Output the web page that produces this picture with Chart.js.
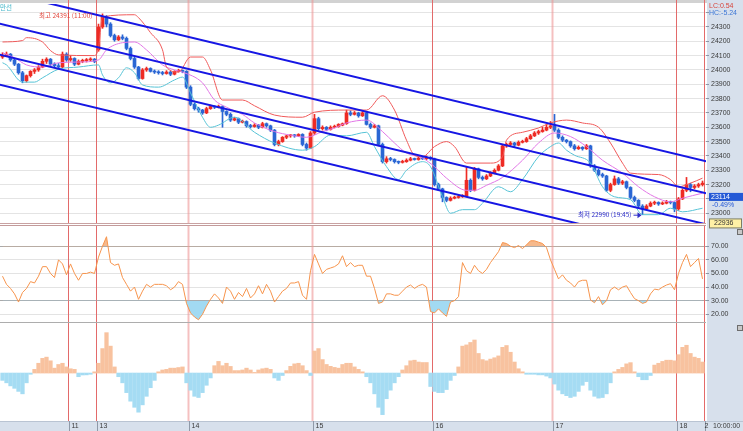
<!DOCTYPE html>
<html>
<head>
<meta charset="utf-8">
<script src="https://cdn.jsdelivr.net/npm/chart.js@4.4.1/dist/chart.umd.min.js"></script>
<style>
  body { margin: 0; width: 743px; height: 431px; overflow: hidden; position: relative; background: #fff; }
  .axisBg { position: absolute; left: 707px; top: 0; width: 36px; height: 431px; background: #d7e0ec; }
  .xBg { position: absolute; left: 0; top: 421px; width: 743px; height: 10px; background: #d7e0ec; border-top: 1px solid #b9c4d3; box-sizing: border-box; }
  .topBar { position: absolute; left: 0; top: 0; width: 707px; height: 3px; background: #d2d2d2; }
  .icon { position: absolute; left: 737px; width: 4px; height: 4px; border: 1px solid #6d6d6d; background: #c8c8c8; }
  canvas { position: absolute; left: 0; }
</style>
</head>
<body>
<div class="axisBg"></div>
<div class="xBg"></div>
<div class="topBar"></div>
<canvas id="priceChart" width="743" height="230" style="top:0"></canvas>
<canvas id="rsiChart" width="743" height="98" style="top:225px"></canvas>
<canvas id="histChart" width="743" height="108" style="top:323px"></canvas>
<div class="icon" style="top:229px"></div>
<div class="icon" style="top:325px"></div>
<script>
// 캔들 데이터 (봉 인덱스 0~175)
const opens = [
  24090,24100,24110,24070,24040,23980,23925,23960,23990,24000,
  24020,24060,24075,24040,24030,24020,24110,24070,24080,24040,
  24060,24065,24070,24075,24140,24300,24370,24320,24240,24210,
  24230,24220,24150,24080,24020,23940,24000,24010,23990,23985,
  23980,23975,23985,23970,23990,23995,23990,23880,23760,23730,
  23720,23700,23730,23745,23740,23745,23710,23690,23650,23660,
  23635,23640,23610,23605,23615,23600,23625,23610,23580,23480,
  23500,23530,23540,23545,23540,23550,23480,23455,23560,23660,
  23590,23600,23585,23600,23605,23615,23625,23700,23690,23700,
  23680,23700,23620,23600,23610,23480,23360,23380,23375,23360,
  23355,23360,23370,23380,23375,23385,23380,23390,23380,23200,
  23170,23110,23090,23105,23110,23115,23120,23230,23160,23310,
  23250,23240,23260,23280,23300,23330,23470,23480,23490,23475,
  23495,23500,23520,23540,23560,23570,23580,23600,23610,23580,
  23530,23510,23500,23470,23450,23460,23450,23470,23330,23300,
  23270,23260,23160,23200,23240,23210,23220,23180,23110,23090,
  23050,23030,23050,23070,23075,23065,23070,23080,23075,23030,
  23100,23160,23200,23180,23190,23200
];
const highs = [
  24120,24125,24115,24080,24045,23990,23965,23995,24010,24030,
  24075,24085,24080,24050,24045,24125,24120,24100,24085,24070,
  24075,24080,24085,24080,24320,24391,24380,24330,24250,24240,
  24245,24230,24160,24090,24025,24010,24020,24015,24000,23995,
  23990,23995,23990,23995,24005,24000,23995,23890,23770,23740,
  23725,23740,23755,23750,23755,23750,23715,23700,23670,23665,
  23650,23645,23620,23625,23620,23635,23630,23615,23585,23510,
  23535,23545,23550,23550,23555,23555,23490,23570,23690,23670,
  23610,23605,23610,23615,23625,23630,23720,23715,23710,23705,
  23710,23705,23630,23620,23615,23490,23395,23390,23380,23365,
  23370,23380,23390,23385,23395,23390,23400,23395,23385,23210,
  23175,23115,23115,23120,23125,23130,23320,23240,23320,23315,
  23260,23270,23290,23310,23340,23480,23490,23500,23495,23505,
  23510,23530,23550,23570,23580,23600,23620,23640,23690,23590,
  23540,23515,23505,23480,23470,23465,23480,23475,23340,23310,
  23280,23265,23210,23260,23250,23230,23225,23185,23120,23095,
  23060,23060,23080,23085,23080,23080,23090,23085,23080,23110,
  23170,23250,23210,23200,23210,23225
];
const lows = [
  24080,24095,24060,24030,23970,23910,23915,23950,23975,23990,
  24015,24045,24030,24015,24015,24015,24060,24060,24030,24035,
  24050,24055,24060,24050,24130,24290,24300,24230,24200,24205,
  24210,24140,24070,24010,23930,23935,23990,23985,23975,23970,
  23965,23970,23960,23965,23985,23980,23870,23750,23720,23705,
  23690,23695,23725,23730,23735,23600,23680,23640,23645,23625,
  23630,23600,23595,23600,23590,23595,23600,23570,23470,23470,
  23495,23520,23530,23530,23535,23470,23440,23450,23550,23580,
  23580,23575,23580,23595,23600,23610,23620,23680,23685,23670,
  23675,23615,23590,23595,23470,23350,23350,23365,23350,23345,
  23350,23355,23365,23370,23370,23375,23375,23370,23190,23160,
  23080,23080,23085,23100,23105,23110,23115,23150,23155,23240,
  23230,23235,23255,23275,23295,23325,23460,23470,23465,23470,
  23490,23495,23515,23535,23550,23565,23575,23590,23570,23520,
  23500,23490,23460,23440,23445,23440,23445,23320,23290,23260,
  23250,23150,23150,23195,23200,23200,23170,23100,23080,23040,
  22990,23025,23045,23060,23055,23060,23065,23065,23010,23020,
  23095,23150,23150,23170,23180,23190
];
const closes = [
  24100,24110,24070,24040,23980,23925,23960,23990,24000,24020,
  24060,24075,24040,24030,24020,24110,24070,24080,24040,24060,
  24065,24070,24075,24060,24300,24370,24320,24240,24210,24230,
  24220,24150,24080,24020,23940,24000,24010,23990,23985,23980,
  23975,23985,23970,23990,23995,23990,23880,23760,23730,23720,
  23700,23730,23745,23740,23745,23710,23690,23650,23660,23635,
  23640,23610,23605,23615,23600,23625,23610,23580,23480,23500,
  23530,23540,23545,23540,23550,23480,23455,23560,23660,23590,
  23600,23585,23600,23605,23620,23625,23700,23690,23700,23680,
  23700,23620,23600,23610,23480,23360,23380,23375,23360,23355,
  23360,23370,23380,23375,23385,23380,23390,23380,23200,23170,
  23110,23090,23105,23110,23115,23120,23230,23160,23310,23250,
  23240,23260,23280,23300,23330,23470,23480,23490,23475,23495,
  23500,23520,23540,23560,23570,23580,23600,23610,23580,23530,
  23510,23500,23470,23450,23460,23450,23470,23330,23300,23270,
  23260,23160,23200,23240,23210,23220,23180,23110,23090,23050,
  23030,23050,23070,23075,23065,23070,23080,23075,23030,23100,
  23160,23200,23180,23190,23200,23210
];

// 볼린저 밴드 (봉 인덱스, 값)
const bbUpperAt = [0,5,6,10,12,14,23,24,25,33,34,37,40,41,44,47,50,52,55,60,63,68,75,78,86,91,95,98,101,103,105,108,111,113,116,122,125,126,130,134,137,141,145,149,152,155,157,164,167,169,172,175];
const bbUpper = [24195,24205,24225,24195,24135,24105,24100,24155,24370,24385,24365,24260,24140,24020,23985,24090,24090,24000,23790,23790,23750,23685,23670,23705,23720,23720,23820,23720,23510,23405,23395,23465,23500,23465,23350,23350,23395,23510,23565,23595,23630,23650,23630,23600,23490,23350,23280,23270,23235,23185,23210,23245];
const bbMidAt = [0,3,6,10,14,19,24,26,30,33,36,40,43,45,50,53,56,60,63,68,72,76,80,83,86,91,95,98,101,105,108,111,116,118,121,125,130,134,138,142,146,150,155,159,163,167,170,175];
const bbMid = [24120,24085,24035,24020,24050,24055,24070,24140,24190,24195,24140,24035,24000,23985,23910,23790,23740,23690,23630,23570,23545,23530,23570,23595,23630,23650,23570,23490,23420,23385,23325,23245,23160,23160,23195,23250,23370,23490,23560,23535,23465,23370,23280,23185,23115,23080,23105,23140];
const bbLowAt = [0,1,5,8,10,14,19,24,25,27,29,31,33,35,39,43,45,47,50,52,54,58,63,68,75,78,82,86,91,93,96,99,101,105,107,110,112,115,118,120,124,127,130,134,137,139,141,143,147,150,153,157,160,164,167,170,175];
const bbLow = [24050,24035,23915,23915,23945,24005,24020,24035,23965,23910,23945,24015,23980,23895,23880,23930,23950,23840,23670,23600,23615,23670,23565,23490,23440,23465,23545,23540,23565,23465,23325,23235,23300,23360,23325,23115,23000,23025,23025,23070,23185,23150,23235,23395,23465,23490,23440,23405,23350,23185,23115,23095,22990,22990,23035,23010,23035];

// 추세 채널 (시작/끝)
const channelX = [-1, 176.5];
const channelTop = [24549, 23359];
const channelUpperMid = [24325, 23135];
const channelLowerMid = [24109, 22919];
const channelBottom = [23899, 22709];

// 보조지표
const rsi = [
  48,42,39,35,29,36,39,44,43,48,
  55,55,50,47,60,57,49,57,50,45,
  50,50,51,50,62,70,77,58,56,57,
  47,42,37,40,31,37,42,40,42,42,
  42,41,38,40,44,42,28,21,18,16,
  20,26,31,35,32,28,40,37,31,36,
  33,39,32,35,41,35,42,37,29,33,
  37,39,43,43,44,34,31,52,64,57,
  50,53,54,55,57,63,55,58,55,56,
  56,48,48,39,28,29,35,35,34,34,
  37,40,41.5,39,41,42,40,22,21,24,
  21,18.5,29,30,33,58,52,50,56,52,
  50,53,58,62,66,72.7,72,70,69,70.5,
  68.3,71,74,74,73,72,69,60,53,46,
  49,45,43,40,44,45,45,30.5,28.5,33,
  27,30,38,40,38,40,41,36,31.5,30,
  28,29,35,38.5,38,40,41.5,42.5,38,50,
  58,64,55,58,61,46
];
const hist = [
  -6,-8,-10.5,-12.5,-15,-17,-8,-1,3,8,
  12,13,10,4,7,8,5,3.5,3,-3,
  -1.6,-1.5,-1,1,8,20,33,22,5,-3,
  -8,-16,-23,-28,-32,-26,-19,-12,-6,1,
  2.5,3,4,4,4.5,5,-8,-14,-19,-20,
  -16,-10,-4,6,9.5,6,8,5.4,2,2,
  2.5,4,2.5,0.5,2.5,3.5,4,3,-4,-6,
  -2,2,5.5,7.5,8,6,2,-2,18,20,
  11,7,5.5,4.6,4,7,8,8,5,3,
  1,-3,-8,-17,-28,-34,-21,-14,-8,-3,
  2.5,6,10,10.5,9,8.6,8.6,-11,-15,-16,
  -16,-13.5,-6,-2,5,22,23,25,27,16,
  11,10,11.4,12.5,14,21,22.5,17,9,3.5,
  1,-1,-1,-1,-1.5,-1.5,-2.5,-4,-9,-14,
  -17,-18.5,-20,-19,-15,-10,-7,-14,-19,-20.5,
  -20,-17,-8,1,3,4.6,7.5,8.5,1,-3,
  -5.5,-5.5,-2,6.5,8,9.5,10.5,10.5,10,15,
  21,22.7,16,13,12,9
];

// 날짜 구분 (그 날 첫 봉 인덱스)
const dayStarts = [17, 24, 47, 78, 108, 138, 169, 176];
const dayNames = ['11', '13', '14', '15', '16', '17', '18', '2'];
const softDays = ['14', '15', '17'];

const hiTime = '11:00', loTime = '19:45';
const lcValue = '0.54', hcValue = '-5.24';
const lastMark = 23114, lastChange = '-0.49%';
const channelMark = 22936;

Chart.defaults.font.family = '"Liberation Sans", Arial, sans-serif';
Chart.defaults.font.size = 7;

const UP = '#ee2b24', DOWN = '#2a66d4';
const candleColor = c => closes[c.dataIndex] >= opens[c.dataIndex] ? UP : DOWN;
const isStep = (v, s) => Math.abs(v / s - Math.round(v / s)) < 1e-6;
const pts = (xs, ys) => xs.map((x, k) => ({ x: x, y: ys[k] }));

function xAxis() {
  return { type: 'linear', min: -0.625, max: 175.875, offset: false, display: false };
}

function rightAxis(min, max, step, keep, fmt, gridColor) {
  return {
    position: 'right', min: min, max: max,
    border: { display: false },
    grid: { color: gridColor, tickLength: 3, tickColor: '#8d97a6' },
    ticks: { stepSize: step, padding: 2, color: '#3a3a3a', autoSkip: false, callback: fmt },
    afterBuildTicks: s => { s.ticks = s.ticks.filter(t => keep(t.value)); },
    afterFit: s => { s.width = 37; s.paddingTop = 0; s.paddingBottom = 0; }
  };
}

// 날짜 세로선
const dayLines = {
  id: 'dayLines',
  beforeDatasetsDraw(chart) {
    const { ctx, chartArea, scales } = chart;
    ctx.save();
    dayStarts.forEach((k, n) => {
      const x = scales.x.getPixelForValue(k - 0.5);
      const soft = softDays.includes(dayNames[n]);
      ctx.strokeStyle = soft ? 'rgba(238,150,150,0.6)' : '#e36a6a';
      ctx.lineWidth = soft ? 2 : 1;
      ctx.beginPath();
      ctx.moveTo(x, chart.canvas.id == 'priceChart' ? 0 : chartArea.top);
      ctx.lineTo(x, chartArea.bottom);
      ctx.stroke();
    });
    ctx.restore();
  }
};

// 패널 테두리
const panelFrame = {
  id: 'panelFrame',
  afterDraw(chart, args, opts) {
    const { ctx, chartArea } = chart;
    ctx.save();
    ctx.lineWidth = 1;
    if (opts.top) {
      ctx.strokeStyle = opts.top;
      ctx.beginPath(); ctx.moveTo(0, chartArea.top + 0.5); ctx.lineTo(chartArea.right, chartArea.top + 0.5); ctx.stroke();
    }
    if (opts.bottom) {
      ctx.strokeStyle = opts.bottom;
      ctx.beginPath(); ctx.moveTo(0, chartArea.bottom - 0.5); ctx.lineTo(chartArea.right, chartArea.bottom - 0.5); ctx.stroke();
    }
    ctx.restore();
  }
};

// 최고/최저 표시와 오른쪽 값 표시
const priceNotes = {
  id: 'priceNotes',
  afterDraw(chart) {
    const { ctx, scales: { x, y } } = chart;
    const hi = Math.max(...highs), lo = Math.min(...lows);
    const hx = x.getPixelForValue(highs.indexOf(hi)), hy = y.getPixelForValue(hi);
    const lx = x.getPixelForValue(lows.indexOf(lo)), ly = y.getPixelForValue(lo);
    ctx.save();
    ctx.textBaseline = 'middle';
    ctx.font = '6.5px "Noto Sans CJK KR"';
    ctx.textAlign = 'right';
    ctx.fillStyle = '#e2473d';
    ctx.fillText('최고 ' + hi + ' (' + hiTime + ')', hx - 10, hy + 1.5);
    ctx.fillStyle = '#2c2cc8';
    ctx.fillText('최저 ' + lo + ' (' + loTime + ')', lx - 11, ly);
    ctx.strokeStyle = '#2c2cc8';
    ctx.lineWidth = 1;
    ctx.beginPath(); ctx.moveTo(lx - 9, ly + 0.5); ctx.lineTo(lx - 2, ly + 0.5); ctx.stroke();
    ctx.beginPath(); ctx.moveTo(lx - 1, ly + 0.5); ctx.lineTo(lx - 5, ly - 2.5); ctx.lineTo(lx - 5, ly + 3.5); ctx.closePath(); ctx.fill();

    ctx.textAlign = 'left';
    ctx.fillStyle = '#3cb4c8';
    ctx.fillText('만선', 0, 8);

    ctx.font = '7px "Liberation Sans"';
    ctx.fillStyle = '#d8463c';
    ctx.fillText('LC:' + lcValue, 709, 6);
    ctx.fillStyle = '#3d77d6';
    ctx.fillText('HC:' + hcValue, 709, 13);

    const by = y.getPixelForValue(lastMark);
    ctx.fillStyle = '#2459d6';
    ctx.fillRect(709, by - 4, 34, 8);
    ctx.fillStyle = '#fff';
    ctx.fillText(String(lastMark), 711, by);
    ctx.fillStyle = '#2459d6';
    ctx.fillText(lastChange, 712, by + 8);

    const cy = y.getPixelForValue(channelMark) + 1;
    ctx.fillStyle = '#fff1a6';
    ctx.fillRect(709.5, cy - 4.5, 32, 9);
    ctx.strokeStyle = '#7d7d62';
    ctx.strokeRect(709.5, cy - 4.5, 32, 9);
    ctx.fillStyle = '#333';
    ctx.fillText(String(channelMark), 714, cy);
    ctx.restore();
  }
};

// 아래 날짜 눈금
const dayLabels = {
  id: 'dayLabels',
  afterDraw(chart) {
    const { ctx, chartArea, scales } = chart;
    ctx.save();
    ctx.font = '7px "Liberation Sans"';
    ctx.textBaseline = 'middle';
    ctx.textAlign = 'left';
    dayStarts.forEach((k, n) => {
      const x = Math.round(scales.x.getPixelForValue(k - 0.5)) + 0.5;
      const last = n === dayStarts.length - 1;
      ctx.strokeStyle = '#8f99a8';
      ctx.beginPath(); ctx.moveTo(x, chartArea.bottom); ctx.lineTo(x, chart.height); ctx.stroke();
      ctx.fillStyle = '#3a3a3a';
      ctx.fillText(dayNames[n], last ? x - 1 : x + 2, chartArea.bottom + 5.5);
    });
    ctx.fillText('10:00:00', 713, chartArea.bottom + 5.5);
    ctx.restore();
  }
};

const common = {
  responsive: false,
  animation: false,
  events: [],
  devicePixelRatio: 1
};

// 가격 차트
new Chart(document.getElementById('priceChart'), {
  type: 'bar',
  data: {
    datasets: [
      { type: 'line', data: pts(channelX, channelTop), borderColor: '#1616e4', borderWidth: 2, pointRadius: 0, order: 0 },
      { type: 'line', data: pts(channelX, channelUpperMid), borderColor: '#1616e4', borderWidth: 2, pointRadius: 0, order: 0 },
      { type: 'line', data: pts(channelX, channelLowerMid), borderColor: '#1616e4', borderWidth: 2, pointRadius: 0, order: 0 },
      { type: 'line', data: pts(channelX, channelBottom), borderColor: '#1616e4', borderWidth: 2, pointRadius: 0, order: 0 },
      { type: 'line', data: pts(bbUpperAt, bbUpper), borderColor: '#f05a5a', borderWidth: 1, pointRadius: 0, cubicInterpolationMode: 'monotone', order: 1 },
      { type: 'line', data: pts(bbMidAt, bbMid), borderColor: '#e277e6', borderWidth: 1, pointRadius: 0, cubicInterpolationMode: 'monotone', order: 1 },
      { type: 'line', data: pts(bbLowAt, bbLow), borderColor: '#56c3d6', borderWidth: 1, pointRadius: 0, cubicInterpolationMode: 'monotone', order: 1 },
      { data: closes.map((c, i) => ({ x: i, y: [opens[i], c] })), backgroundColor: candleColor, barThickness: 3, minBarLength: 1, grouped: false, order: 2 },
      { data: closes.map((c, i) => ({ x: i, y: [lows[i], highs[i]] })), backgroundColor: candleColor, barThickness: 1, grouped: false, order: 3 }
    ]
  },
  options: {
    ...common,
    layout: { padding: { top: 4, bottom: 6, left: 0, right: 0 } },
    plugins: { legend: { display: false }, tooltip: { enabled: false }, panelFrame: { bottom: '#c9a2a2' } },
    scales: {
      x: xAxis(),
      y: rightAxis(22925, 24460, 100, v => isStep(v, 100), v => (v > 24300 ? '' : String(v)), '#e4e4e4')
    }
  },
  plugins: [dayLines, panelFrame, priceNotes]
});

// RSI
new Chart(document.getElementById('rsiChart'), {
  type: 'line',
  data: {
    datasets: [
      { data: rsi.map((v, i) => ({ x: i, y: v })), borderColor: '#f7944c', borderWidth: 1, pointRadius: 0,
        fill: { target: { value: 70 }, above: '#f6b98c', below: 'rgba(0,0,0,0)' } },
      { data: rsi.map((v, i) => ({ x: i, y: v })), borderColor: 'rgba(0,0,0,0)', borderWidth: 0, pointRadius: 0,
        fill: { target: { value: 30 }, above: 'rgba(0,0,0,0)', below: '#a2daf2' } }
    ]
  },
  options: {
    ...common,
    layout: { padding: 0 },
    plugins: { legend: { display: false }, tooltip: { enabled: false }, panelFrame: { top: '#c39a9a', bottom: '#adadad' } },
    scales: {
      x: xAxis(),
      y: rightAxis(13.6, 85.6, 10, v => isStep(v, 10) && v >= 20 && v <= 80, v => v.toFixed(2),
        c => (c.tick && (Math.round(c.tick.value) === 70 || Math.round(c.tick.value) === 30) ? '#a9a9a9' : '#e3e3e3'))
    }
  },
  plugins: [dayLines, panelFrame]
});

// 오실레이터 히스토그램
new Chart(document.getElementById('histChart'), {
  type: 'bar',
  data: {
    datasets: [
      { data: hist.map((v, i) => ({ x: i, y: v })),
        backgroundColor: c => (hist[c.dataIndex] >= 0 ? '#f8c29f' : '#a5dcf3'),
        barThickness: 3.6 }
    ]
  },
  options: {
    ...common,
    layout: { padding: { top: 0, bottom: 10, left: 0, right: 0 } },
    plugins: { legend: { display: false }, tooltip: { enabled: false } },
    scales: {
      x: xAxis(),
      y: rightAxis(-39.2, 40.9, 10, v => isStep(v, 10) && v >= -30 && v <= 30, v => v.toFixed(2), '#e3e3e3')
    }
  },
  plugins: [dayLines, dayLabels]
});
</script>
</body>
</html>
